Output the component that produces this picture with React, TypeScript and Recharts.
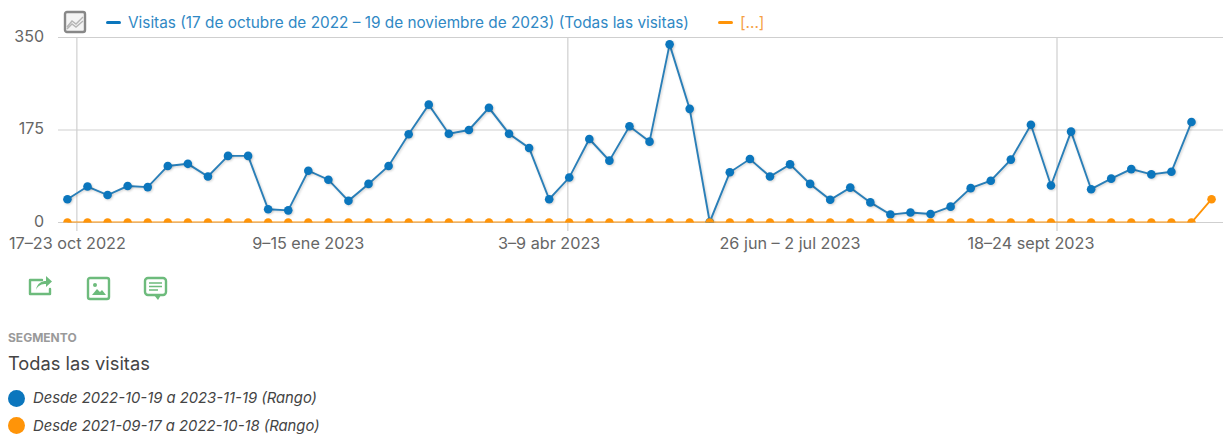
import { LineChart, Line, XAxis, YAxis, CartesianGrid, ReferenceLine } from 'recharts';

const FONT = 'Inter, "Liberation Sans", sans-serif';

const visitas = [
  44, 68, 52, 69, 67, 107, 111, 87, 126, 126, 25, 23, 98, 81, 41, 73, 107, 167, 223, 168,
  175, 217, 168, 141, 44, 85, 158, 117, 182, 153, 337, 215, 1, 95, 120, 87, 110, 73, 43, 66,
  38, 15, 19, 16, 30, 65, 79, 119, 185, 70, 172, 63, 83, 101, 91, 96, 190,
];
const anterior = [
  0, 0, 0, 0, 0, 0, 0, 0, 0, 0, 0, 0, 0, 0, 0, 0, 0, 0, 0, 0,
  0, 0, 0, 0, 0, 0, 0, 0, 0, 0, 0, 0, 0, 0, 0, 0, 0, 0, 0, 0,
  0, 0, 0, 0, 0, 0, 0, 0, 0, 0, 0, 0, 0, 0, 0, 0, 0, 44,
];
const xLabels: Record<number, string> = {
  0: '17–23 oct 2022',
  12: '9–15 ene 2023',
  24: '3–9 abr 2023',
  36: '26 jun – 2 jul 2023',
  48: '18–24 sept 2023',
};
const xTicks = [0, 12, 24, 36, 48];
const yTicks = [0, 175, 350];
// the vertical gridlines do not sit on the labelled weeks in the original
const verticalLines = [0.47, 24.93, 49.3];

const BLUE = '#0b76bd';
const BLUE_LINE = '#2a7fb8';
const ORANGE = '#ff9408';
const GREEN = '#6dbb7c';

const data = anterior.map((a, i) => ({ i, visitas: visitas[i], anterior: a }));

const legendItems = [
  { name: 'Visitas (17 de octubre de 2022 – 19 de noviembre de 2023) (Todas las visitas)', color: BLUE, text: '#2f88c4', left: 106 },
  { name: '[...]', color: ORANGE, text: '#f5a044', left: 718 },
];
const segments = [
  { label: 'Desde 2022-10-19 a 2023-11-19 (Rango)', color: BLUE },
  { label: 'Desde 2021-09-17 a 2022-10-18 (Rango)', color: ORANGE },
];

function YTick({ y, payload }: any) {
  return (
    <text x={44} y={y - 2} textAnchor="end" dominantBaseline="central" fontSize={16} fill="#666" fontFamily={FONT}>
      {payload.value}
    </text>
  );
}

function ChartLegend() {
  return (
    <div style={{ position: 'absolute', left: 0, top: 13, width: 1223, height: 20, fontFamily: FONT }}>
      {legendItems.map((l) => (
        <div key={l.name} style={{ position: 'absolute', left: l.left, top: 0, display: 'flex', alignItems: 'center', whiteSpace: 'nowrap', fontSize: 15.35, color: l.text }}>
          <span style={{ width: 15, height: 3, background: l.color, borderRadius: 2, marginRight: 7 }} />
          {l.name}
        </div>
      ))}
    </div>
  );
}

function Icons() {
  const s = { fill: 'none', stroke: GREEN, strokeWidth: 2.4, strokeLinejoin: 'round' as const, strokeLinecap: 'round' as const };
  return (
    <svg width={200} height={30} style={{ position: 'absolute', left: 0, top: 274 }}>
      <path d="M42 6 H30 V20 H50 V15" {...s} />
      <path d="M36 16 C37 9 42 7 46 7 V2 L52 7.5 L46 13 V10 C42 10 38 11 36 16 Z" fill={GREEN} />
      <rect x={88} y={4} width={21} height={21} rx={2} {...s} />
      <circle cx={95} cy={11} r={2} fill={GREEN} />
      <path d="M92 21 L97 15 L100 18 L102 16 L106 21 Z" fill={GREEN} />
      <rect x={145} y={4} width={21} height={17} rx={3} {...s} />
      <path d="M154 21 L158 26 L161 21 Z" fill={GREEN} />
      <path d="M149 9 H162 M149 12.5 H162 M149 16 H158" stroke={GREEN} strokeWidth={1.6} />
    </svg>
  );
}

export default function App() {
  return (
    <div style={{ position: 'absolute', left: 0, top: 0, width: 1223, height: 434, overflow: 'hidden', background: '#fff' }}>
      <LineChart width={1223} height={265} data={data} margin={{ top: 37.5, right: 0, bottom: 6.5, left: 0 }}>
        <CartesianGrid vertical={false} stroke="#cfcfcf" strokeWidth={1.2} />
        <XAxis
          dataKey="i"
          type="number"
          domain={[-0.47, 57.57]}
          ticks={xTicks}
          interval={0}
          allowDataOverflow
          height={36}
          axisLine={false}
          tickLine={false}
          tickMargin={9}
          tick={{ fontSize: 16.2, fill: '#666', fontFamily: FONT }}
          tickFormatter={(v: number) => xLabels[v]}
        />
        <YAxis width={58} domain={[0, 350]} ticks={yTicks} interval={0} allowDataOverflow axisLine={false} tickLine={false} tick={<YTick />} />
        {verticalLines.map((x) => (
          <ReferenceLine
            key={x}
            x={x}
            shape={(p: any) => <line x1={p.x1} x2={p.x2} y1={37.5} y2={231} stroke="#cfcfcf" strokeWidth={1.2} />}
            ifOverflow="visible"
          />
        ))}
        <Line
          dataKey="visitas"
          stroke={BLUE_LINE}
          strokeWidth={1.9}
          dot={{ r: 4.3, fill: BLUE, stroke: BLUE, strokeWidth: 0, clipDot: true }}
          style={{ filter: 'drop-shadow(1px 1.5px 1px rgba(0,0,0,0.18))' }}
          isAnimationActive={false}
        />
        <Line
          dataKey="anterior"
          stroke={ORANGE}
          strokeWidth={1.9}
          dot={{ r: 4.3, fill: ORANGE, stroke: ORANGE, strokeWidth: 0, clipDot: true }}
          isAnimationActive={false}
        />
      </LineChart>

      <ChartLegend />

      <svg width={30} height={30} style={{ position: 'absolute', left: 60, top: 8 }}>
        <rect x={5} y={4} width={20} height={20} rx={2} fill="#f4f4f4" stroke="#888" strokeWidth={2.4} />
        <path d="M7 19 L12 13 L16 16 L23 9 M7 21 L12 16 L16 19 L23 13" fill="none" stroke="#b5b5b5" strokeWidth={1.4} />
      </svg>

      <Icons />

      <div style={{ position: 'absolute', left: 8, top: 331, fontFamily: FONT, fontSize: 12, fontWeight: 700, color: '#9a9a9a', lineHeight: '14px' }}>SEGMENTO</div>
      <div style={{ position: 'absolute', left: 8, top: 352, fontFamily: FONT, fontSize: 18.3, color: '#444', lineHeight: '22px' }}>Todas las visitas</div>
      {segments.map((s, i) => (
        <div key={s.label} style={{ position: 'absolute', left: 8, top: 389 + i * 27.5, display: 'flex', alignItems: 'center', height: 18, fontFamily: FONT, fontSize: 14.8, fontStyle: 'italic', color: '#444', whiteSpace: 'nowrap' }}>
          <span style={{ width: 17, height: 17, borderRadius: '50%', background: s.color, marginRight: 8 }} />
          {s.label}
        </div>
      ))}
    </div>
  );
}
